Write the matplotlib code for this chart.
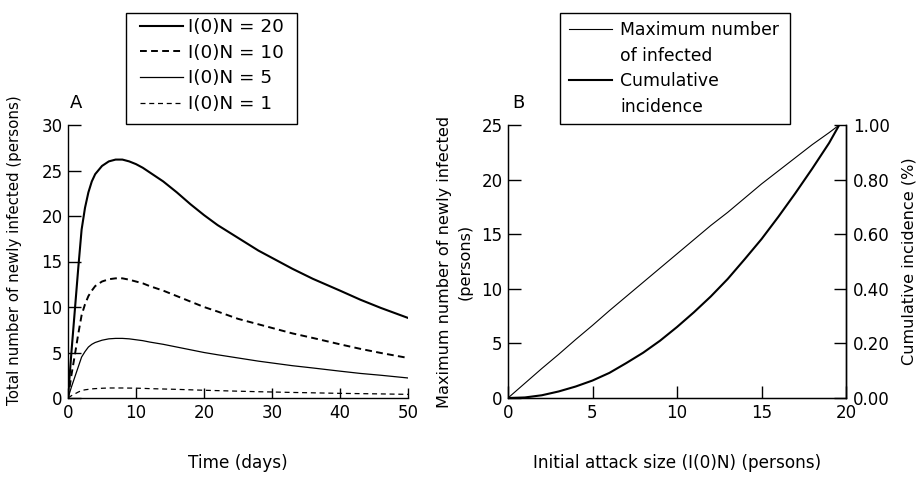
import matplotlib
matplotlib.use("Agg")
import matplotlib.pyplot as plt
from matplotlib.lines import Line2D
from matplotlib.patches import Rectangle
from matplotlib.ticker import FormatStrFormatter

# ---------------- data: panel A ----------------
t_days = [0, 0.5, 1, 1.5, 2, 2.5, 3, 3.5, 4, 5, 6, 7, 8, 9, 10, 11, 12, 14, 16, 18,
          20, 22, 25, 28, 30, 33, 36, 40, 43, 46, 50]
n20 = [0, 5.0, 9.6, 14.2, 18.5, 20.9, 22.6, 23.8, 24.6, 25.5, 26.0, 26.2, 26.2, 26.0,
       25.7, 25.3, 24.8, 23.8, 22.6, 21.3, 20.1, 19.0, 17.6, 16.2, 15.4, 14.2, 13.1,
       11.8, 10.8, 9.9, 8.8]
n10 = [0, 2.5, 4.7, 7.0, 9.1, 10.3, 11.2, 11.8, 12.3, 12.8, 13.05, 13.15, 13.15, 13.0,
       12.8, 12.6, 12.3, 11.8, 11.2, 10.6, 10.0, 9.5, 8.7, 8.1, 7.7, 7.1, 6.6,
       5.9, 5.4, 4.95, 4.4]
n5 = [0, 1.2, 2.3, 3.4, 4.5, 5.1, 5.6, 5.9, 6.1, 6.35, 6.5, 6.55, 6.55, 6.5,
      6.4, 6.3, 6.15, 5.9, 5.6, 5.3, 5.0, 4.75, 4.4, 4.05, 3.85, 3.55, 3.3,
      2.95, 2.7, 2.5, 2.2]
n1 = [0, 0.25, 0.45, 0.65, 0.82, 0.9, 0.95, 1.0, 1.03, 1.07, 1.1, 1.1, 1.1, 1.09,
      1.08, 1.06, 1.03, 0.99, 0.95, 0.9, 0.85, 0.81, 0.75, 0.69, 0.66, 0.61, 0.57,
      0.51, 0.48, 0.45, 0.4]
labels_a = ["I(0)N = 20", "I(0)N = 10", "I(0)N = 5", "I(0)N = 1"]

# ---------------- data: panel B ----------------
attack = [0, 1, 2, 3, 4, 5, 6, 7, 8, 9, 10, 11, 12, 13, 14, 15, 16, 17, 18, 19, 19.6]
max_infected = [0, 1.35, 2.7, 4.0, 5.35, 6.65, 8.0, 9.3, 10.6, 11.9, 13.2, 14.5, 15.8,
                17.0, 18.3, 19.6, 20.8, 22.0, 23.2, 24.3, 25.0]
cum_incidence = [0, 0.002, 0.010, 0.024, 0.042, 0.064, 0.092, 0.128, 0.166, 0.210,
                 0.260, 0.314, 0.372, 0.436, 0.508, 0.582, 0.664, 0.750, 0.840, 0.934, 1.0]
labels_b = ["Maximum number", "of infected", "Cumulative", "incidence"]

# ---------------- figure ----------------
plt.rcParams['font.family'] = ['DejaVu Sans']
W, H = 918, 480
fig = plt.figure(figsize=(W / 100, H / 100), dpi=100)

def rect(l, r, top, bot):
    return [l / W, 1 - bot / H, (r - l) / W, (bot - top) / H]

def fig_box(l, top, r, bot):
    fig.add_artist(Rectangle((l / W, 1 - bot / H), (r - l) / W, (bot - top) / H,
                             transform=fig.transFigure, fill=False,
                             edgecolor='black', lw=1.0))

TICK_FS = 12
XLAB_FS = 12.2

# ---------------- panel A ----------------
axA = fig.add_axes(rect(68, 408, 125, 398))
axA.plot(t_days, n20, color='black', lw=1.5)
axA.plot(t_days, n10, color='black', lw=1.4, ls=(0, (3.5, 2.2)))
axA.plot(t_days, n5, color='black', lw=0.9)
axA.plot(t_days, n1, color='black', lw=0.9, ls=(0, (4, 3)))
axA.set_xlim(0, 50)
axA.set_ylim(0, 30)
axA.set_xticks([0, 10, 20, 30, 40, 50])
axA.set_yticks([0, 5, 10, 15, 20, 25, 30])
for s in ['top', 'right']:
    axA.spines[s].set_visible(False)
for s in ['left', 'bottom']:
    axA.spines[s].set_linewidth(1.0)
axA.tick_params(axis='y', direction='in', length=9, width=1.0, pad=4, labelsize=TICK_FS)
axA.tick_params(axis='x', direction='in', length=7, width=1.0, pad=4, labelsize=TICK_FS)
axA.set_xlabel("Time (days)", fontsize=XLAB_FS)
axA.xaxis.set_label_coords(0.5, -0.205)
axA.set_ylabel("Total number of newly infected (persons)", fontsize=10.8)
axA.yaxis.set_label_coords(-0.135, 0.54)
fig.text(70 / W, 1 - 103 / H, "A", fontsize=13, ha='left', va='center')

handlesA = [Line2D([], [], color='black', lw=1.5),
            Line2D([], [], color='black', lw=1.4, ls=(0, (3.5, 2.2))),
            Line2D([], [], color='black', lw=0.9),
            Line2D([], [], color='black', lw=0.9, ls=(0, (4, 3)))]
fig.legend(handlesA, labels_a, loc='upper left',
           bbox_to_anchor=(140 / W, 1 - 18 / H), borderaxespad=0, borderpad=0,
           fontsize=13.2, frameon=False,
           handlelength=2.35, handletextpad=0.27, labelspacing=0.42)
fig_box(126, 13, 297, 124)

# ---------------- panel B ----------------
axB = fig.add_axes(rect(508, 846, 125, 398))
axB.plot(attack, max_infected, color='black', lw=0.8)
axB.set_xlim(0, 20)
axB.set_ylim(0, 25)
axB.set_xticks([0, 5, 10, 15, 20])
axB.set_yticks([0, 5, 10, 15, 20, 25])
axB.spines['top'].set_visible(False)
for s in ['left', 'bottom', 'right']:
    axB.spines[s].set_linewidth(1.0)
axB.tick_params(axis='y', direction='in', length=9, width=1.0, pad=4, labelsize=TICK_FS)
axB.tick_params(axis='x', direction='in', length=9, width=1.0, pad=4, labelsize=TICK_FS)
axB.set_xlabel("Initial attack size (I(0)N) (persons)", fontsize=XLAB_FS)
axB.xaxis.set_label_coords(0.5, -0.205)
axB.set_ylabel("Maximum number of newly infected\n(persons)", fontsize=11.6,
               linespacing=1.45)
axB.yaxis.set_label_coords(-0.104, 0.5)

axB2 = axB.twinx()
axB2.plot(attack, cum_incidence, color='black', lw=1.5)
axB2.set_ylim(0, 1.0)
axB2.set_yticks([0, 0.2, 0.4, 0.6, 0.8, 1.0])
axB2.yaxis.set_major_formatter(FormatStrFormatter('%.2f'))
axB2.spines['top'].set_visible(False)
axB2.spines['right'].set_linewidth(1.0)
axB2.tick_params(axis='y', direction='in', length=9, width=1.0, pad=5, labelsize=TICK_FS)
axB2.set_ylabel("Cumulative incidence (%)", fontsize=11.6)
axB2.yaxis.set_label_coords(1.163, 0.5)
fig.text(512 / W, 1 - 103 / H, "B", fontsize=13, ha='left', va='center')

handlesB = [Line2D([], [], color='black', lw=0.8),
            Line2D([], [], color='none', lw=0),
            Line2D([], [], color='black', lw=1.5),
            Line2D([], [], color='none', lw=0)]
fig.legend(handlesB, labels_b, loc='upper left',
           bbox_to_anchor=(569 / W, 1 - 21 / H), borderaxespad=0, borderpad=0,
           fontsize=12.4, frameon=False,
           handlelength=2.5, handletextpad=0.47, labelspacing=0.44)
fig_box(560, 13, 790, 124)

fig.savefig("out.png", dpi=100)
